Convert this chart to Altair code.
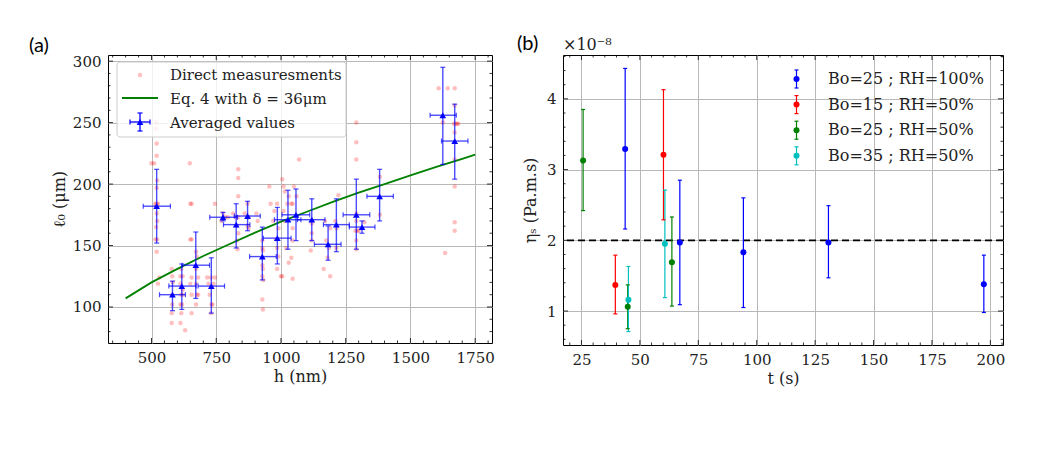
import altair as alt
import pandas as pd

# ---------------- Panel (a) data ----------------
dm_h = [518, 518, 520, 520, 510, 500, 522, 520, 515, 520, 525, 518, 520, 522, 518, 515, 522, 520, 530, 525,
        578, 580, 582, 580, 580, 578, 578,
        615, 612, 620, 612, 620, 615, 620, 612, 618, 615, 612, 630,
        648, 650, 655, 650, 655, 655, 650, 655, 655,
        672, 675, 672, 680, 672, 680, 675, 672,
        745, 715, 730, 745, 720, 740, 725, 732, 730, 735,
        776, 785, 795, 770,
        835, 835, 835, 815, 825, 835, 830, 835, 830, 832,
        871, 860, 875, 871, 875,
        905, 910,
        928, 928, 930, 928, 930, 928, 932, 928, 930,
        955, 960, 975, 985, 970, 990, 980, 985, 990, 985, 1000, 1005,
        1005, 1010, 1015, 1030, 1040, 1045, 1025, 1010, 1015, 1045, 1045, 1020, 1040, 1030, 1045, 1050, 1060,
        1070,
        1119, 1119, 1119, 1115,
        1170, 1190, 1175, 1185, 1180, 1165, 1190,
        1222, 1210, 1215, 1214,
        1291, 1291, 1291, 1291, 1291, 1288, 1295, 1300, 1291, 1291,
        1322, 1382, 1382,
        1609, 1644, 1671, 1671, 1625, 1668, 1675, 1680, 1685, 1671, 1671, 1671, 1671, 1671, 1634]
dm_l = [250, 245, 233, 223, 217, 217, 203, 197, 184, 184, 184, 182, 176, 170, 165, 155, 155, 145, 124, 119,
        131, 125, 120, 110, 102, 95, 87,
        131, 125, 125, 119, 114, 110, 110, 102, 102, 95, 87, 81,
        217, 184, 184, 155, 155, 124, 119, 110, 95,
        145, 141, 131, 124, 119, 110, 110, 102,
        184, 124, 124, 124, 119, 119, 110, 102, 95, 102,
        176, 173, 173, 170,
        212, 205, 190, 176, 173, 173, 166, 160, 154, 147,
        184, 176, 173, 166, 164,
        176, 170,
        154, 148, 146, 134, 131, 125, 122, 106, 98,
        198, 184, 178, 184, 170, 164, 155, 148, 141, 131, 125, 125,
        204, 198, 194, 190, 184, 184, 184, 178, 170, 164, 154, 148, 140, 136, 123, 198, 190,
        220,
        168, 160, 154, 146,
        170, 164, 154, 148, 140, 131, 125,
        191, 170, 164, 148,
        250, 234, 220, 176, 170, 162, 162, 162, 154, 147,
        169, 206, 175,
        278, 278, 278, 264, 250, 249, 249, 249, 249, 242, 220, 198, 169, 162, 144]

avg_h   = [520, 581, 617, 671, 731, 776, 827, 871, 928, 986, 1027, 1058, 1119, 1182, 1214, 1291, 1313, 1381, 1625, 1671]
avg_l   = [182, 110, 117, 134, 117, 173, 167, 174, 141, 156, 171, 175, 171, 151, 167, 175, 165, 190, 256, 235]
avg_hlo = [468, 531, 567, 618, 680, 725, 778, 820, 879, 932, 975, 1004, 1064, 1129, 1164, 1240, 1264, 1332, 1576, 1620]
avg_hhi = [573, 631, 672, 724, 782, 832, 880, 920, 982, 1039, 1077, 1111, 1170, 1232, 1264, 1343, 1363, 1434, 1677, 1722]
avg_llo = [152, 97, 98, 107, 95, 170, 148, 162, 122, 135, 147, 154, 154, 138, 145, 147, 160, 170, 216, 204]
avg_lhi = [212, 121, 135, 161, 140, 177, 184, 186, 165, 181, 195, 196, 188, 166, 188, 204, 170, 212, 295, 265]

# Eq. 4 curve
eq_h = [400, 500, 600, 700, 800, 900, 1000, 1100, 1200, 1300, 1400, 1500, 1600, 1700, 1750]
eq_l = [107, 120, 131, 141.5, 151, 160.5, 169.5, 177.5, 185.5, 193, 200, 207, 214, 220.5, 224]

legend_a = ["Direct measuresments", "Eq. 4 with δ = 36μm", "Averaged values"]

# ---------------- Panel (b) data (units of 1e-8 Pa.m.s) ----------------
series_b = ["Bo=25 ; RH=100%", "Bo=15 ; RH=50%", "Bo=25 ; RH=50%", "Bo=35 ; RH=50%"]
colors_b = ["#0000ff", "#ff0000", "#008000", "#00bfbf"]
t_b = [[43.7, 67.1, 94.3, 130.7, 197.2], [39.5, 60.1], [25.7, 44.8, 63.7], [45.1, 60.7]]
eta_b = [[3.29, 1.97, 1.83, 1.97, 1.38], [1.37, 3.21], [3.13, 1.06, 1.69], [1.16, 1.95]]
lo_b = [[2.16, 1.09, 1.05, 1.47, 0.98], [0.96, 2.29], [2.42, 0.75, 1.07], [0.71, 1.19]]
hi_b = [[4.43, 2.85, 2.60, 2.49, 1.79], [1.79, 4.13], [3.85, 1.37, 2.33], [1.63, 2.71]]
ref_eta = [2.0]

x1_major = [500, 750, 1000, 1250, 1500, 1750]
y1_major = [100, 150, 200, 250, 300]
x2_major = [25, 50, 75, 100, 125, 150, 175, 200]
y2_major = [1, 2, 3, 4]
x1_minor = [v for v in range(350, 1801, 50) if v not in x1_major]
y1_minor = [v for v in range(80, 301, 10) if v not in y1_major]
x2_minor = [v for v in range(20, 206, 5) if v not in x2_major]
y2_minor = [round(0.6 + 0.2 * i, 1) for i in range(21) if round(0.6 + 0.2 * i, 1) not in y2_major]

FONT = "DejaVu Serif"
BLUE = "#0000ff"
one = pd.DataFrame({"a": [0]})


def frame_ticks(xmaj, xmin, ymaj, ymin, X, Y, W, H):
    layers = []
    for vals, L in ((xmaj, 5), (xmin, 2.5)):
        d = pd.DataFrame({"v": vals})
        layers.append(alt.Chart(d).mark_rule(color="black", strokeWidth=0.8).encode(
            x=X("v:Q"), y=alt.value(H), y2=alt.value(H - L)))
        layers.append(alt.Chart(d).mark_rule(color="black", strokeWidth=0.8).encode(
            x=X("v:Q"), y=alt.value(0), y2=alt.value(L)))
    for vals, L in ((ymaj, 5), (ymin, 2.5)):
        d = pd.DataFrame({"v": vals})
        layers.append(alt.Chart(d).mark_rule(color="black", strokeWidth=0.8).encode(
            y=Y("v:Q"), x=alt.value(0), x2=alt.value(L)))
        layers.append(alt.Chart(d).mark_rule(color="black", strokeWidth=0.8).encode(
            y=Y("v:Q"), x=alt.value(W), x2=alt.value(W - L)))
    return layers


# ---------------- Panel (a) ----------------
W1, H1 = 384, 288
xs1 = alt.Scale(domain=[332, 1815], nice=False, zero=False)
ys1 = alt.Scale(domain=[70.7, 305], nice=False, zero=False)
xax1 = alt.Axis(values=x1_major, title="h (nm)", format="d", grid=True, titlePadding=3)
yax1 = alt.Axis(values=y1_major, title="ℓ₀ (μm)", format="d", grid=True, titlePadding=5)
X1 = lambda f: alt.X(f, scale=xs1, axis=xax1)
Y1 = lambda f: alt.Y(f, scale=ys1, axis=yax1)

dm = pd.DataFrame({"h": dm_h, "l": dm_l})
avg = pd.DataFrame({"h": avg_h, "l": avg_l, "hlo": avg_hlo, "hhi": avg_hhi,
                    "llo": avg_llo, "lhi": avg_lhi})
eq = pd.DataFrame({"h": eq_h, "l": eq_l})

ERR_OP = 0.7
la = []
la.append(alt.Chart(dm).mark_circle(color="#ff0000", opacity=0.25, size=20).encode(x=X1("h:Q"), y=Y1("l:Q")))
la.append(alt.Chart(eq).mark_line(color="#008000", strokeWidth=1.8).encode(x=X1("h:Q"), y=Y1("l:Q")))
la.append(alt.Chart(avg).mark_rule(color=BLUE, opacity=ERR_OP, strokeWidth=1.4).encode(
    x=X1("h:Q"), y=Y1("llo:Q"), y2="lhi:Q"))
la.append(alt.Chart(avg).mark_rule(color=BLUE, opacity=ERR_OP, strokeWidth=1.4).encode(
    y=Y1("l:Q"), x=X1("hlo:Q"), x2="hhi:Q"))
for f in ("llo", "lhi"):
    la.append(alt.Chart(avg).mark_tick(color=BLUE, opacity=ERR_OP, orient="horizontal", size=5, thickness=1.2).encode(
        x=X1("h:Q"), y=Y1(f + ":Q")))
for f in ("hlo", "hhi"):
    la.append(alt.Chart(avg).mark_tick(color=BLUE, opacity=ERR_OP, orient="vertical", size=5, thickness=1.2).encode(
        x=X1(f + ":Q"), y=Y1("l:Q")))
la.append(alt.Chart(avg).mark_point(shape="triangle-up", filled=True, color=BLUE, opacity=1, size=45).encode(
    x=X1("h:Q"), y=Y1("l:Q")))
la += frame_ticks(x1_major, x1_minor, y1_major, y1_minor, X1, Y1, W1, H1)

# legend (a)
la.append(alt.Chart(one).mark_rect(fill="white", fillOpacity=0.8, stroke="#cccccc", strokeWidth=1,
                                   cornerRadius=3).encode(
    x=alt.value(9), x2=alt.value(238), y=alt.value(7), y2=alt.value(82)))
la.append(alt.Chart(one).mark_circle(color="#ff0000", opacity=0.25, size=20).encode(x=alt.value(32), y=alt.value(20)))
la.append(alt.Chart(one).mark_rule(color="#008000", strokeWidth=1.8).encode(
    x=alt.value(14), x2=alt.value(50), y=alt.value(43)))
la.append(alt.Chart(one).mark_rule(color=BLUE, strokeWidth=1.3).encode(x=alt.value(22), x2=alt.value(42), y=alt.value(67)))
la.append(alt.Chart(one).mark_rule(color=BLUE, strokeWidth=1.3).encode(x=alt.value(32), y=alt.value(58), y2=alt.value(76)))
for xx in (22, 42):
    la.append(alt.Chart(one).mark_rule(color=BLUE, strokeWidth=1.2).encode(x=alt.value(xx), y=alt.value(64.5), y2=alt.value(69.5)))
for yy in (58, 76):
    la.append(alt.Chart(one).mark_rule(color=BLUE, strokeWidth=1.2).encode(x=alt.value(29.5), x2=alt.value(34.5), y=alt.value(yy)))
la.append(alt.Chart(one).mark_point(shape="triangle-up", filled=True, color=BLUE, opacity=1, size=45).encode(
    x=alt.value(32), y=alt.value(67)))
for i, lab in enumerate(legend_a):
    la.append(alt.Chart(one).mark_text(text=lab, font=FONT, fontSize=15, align="left", baseline="middle",
                                       color="#222222").encode(x=alt.value(62), y=alt.value(20 + 24 * i)))
la.append(alt.Chart(one).mark_text(text="(a)", font="Lato", fontSize=20, align="left", baseline="middle",
                                   color="black").encode(x=alt.value(-79), y=alt.value(-9)))

left = alt.layer(*la).properties(width=W1, height=H1)

# ---------------- Panel (b) ----------------
W2, H2 = 440, 290
xs2 = alt.Scale(domain=[17.1, 205.4], nice=False, zero=False)
ys2 = alt.Scale(domain=[0.52, 4.62], nice=False, zero=False)
xax2 = alt.Axis(values=x2_major, title="t (s)", format="d", grid=True, titlePadding=3)
yax2 = alt.Axis(values=y2_major, title="ηₛ (Pa.m.s)", format="d", grid=True, titlePadding=8)
X2 = lambda f: alt.X(f, scale=xs2, axis=xax2)
Y2 = lambda f: alt.Y(f, scale=ys2, axis=yax2)

rows = []
for s, ts, es, los, his in zip(series_b, t_b, eta_b, lo_b, hi_b):
    for t, e, lo, hi in zip(ts, es, los, his):
        rows.append({"series": s, "t": t, "eta": e, "lo": lo, "hi": hi})
db = pd.DataFrame(rows)
cscale = alt.Scale(domain=series_b, range=colors_b)
C = alt.Color("series:N", scale=cscale, legend=None)

lb = []
lb.append(alt.Chart(pd.DataFrame({"v": ref_eta})).mark_rule(color="black", strokeWidth=1.8, strokeDash=[7, 4]).encode(
    y=Y2("v:Q")))
lb.append(alt.Chart(db).mark_rule(strokeWidth=1.2).encode(x=X2("t:Q"), y=Y2("lo:Q"), y2="hi:Q", color=C))
for f in ("lo", "hi"):
    lb.append(alt.Chart(db).mark_tick(orient="horizontal", size=4, thickness=1.2, opacity=1).encode(
        x=X2("t:Q"), y=Y2(f + ":Q"), color=C))
lb.append(alt.Chart(db).mark_circle(size=36, opacity=1).encode(x=X2("t:Q"), y=Y2("eta:Q"), color=C))
lb += frame_ticks(x2_major, x2_minor, y2_major, y2_minor, X2, Y2, W2, H2)

# legend (b)
for i, (lab, col) in enumerate(zip(series_b, colors_b)):
    yy = 24 + 25.6 * i
    lb.append(alt.Chart(one).mark_rule(color=col, strokeWidth=1.2).encode(
        x=alt.value(233.5), y=alt.value(yy - 9), y2=alt.value(yy + 9)))
    for cy in (yy - 9, yy + 9):
        lb.append(alt.Chart(one).mark_rule(color=col, strokeWidth=1.2).encode(
            x=alt.value(231.5), x2=alt.value(235.5), y=alt.value(cy)))
    lb.append(alt.Chart(one).mark_circle(color=col, size=36, opacity=1).encode(x=alt.value(233.5), y=alt.value(yy)))
    lb.append(alt.Chart(one).mark_text(text=lab, font=FONT, fontSize=16, align="left", baseline="middle",
                                       color="#222222").encode(x=alt.value(265), y=alt.value(yy)))
lb.append(alt.Chart(one).mark_text(text="(b)", font="Lato", fontSize=20, align="left", baseline="middle",
                                   color="black").encode(x=alt.value(-46), y=alt.value(-11)))
lb.append(alt.Chart(one).mark_text(text="×10⁻⁸", font=FONT, fontSize=16, align="left", baseline="alphabetic",
                                   color="#222222").encode(x=alt.value(0), y=alt.value(-5)))

right = alt.layer(*lb).properties(width=W2, height=H2)

chart = alt.hconcat(left, right, spacing=21).properties(
    padding={"left": 20, "top": 25, "right": 10, "bottom": 5}
).configure_view(stroke="black", strokeWidth=1).configure_axis(
    domain=False, ticks=False, labelFont=FONT, labelFontSize=15, labelColor="#222222", labelPadding=7,
    titleFont=FONT, titleFontSize=16, titleFontWeight="normal", titleColor="#222222",
    gridColor="#b8b8b8", gridWidth=1
)

chart.save("out.html", embed_options={"renderer": "svg", "actions": False})
